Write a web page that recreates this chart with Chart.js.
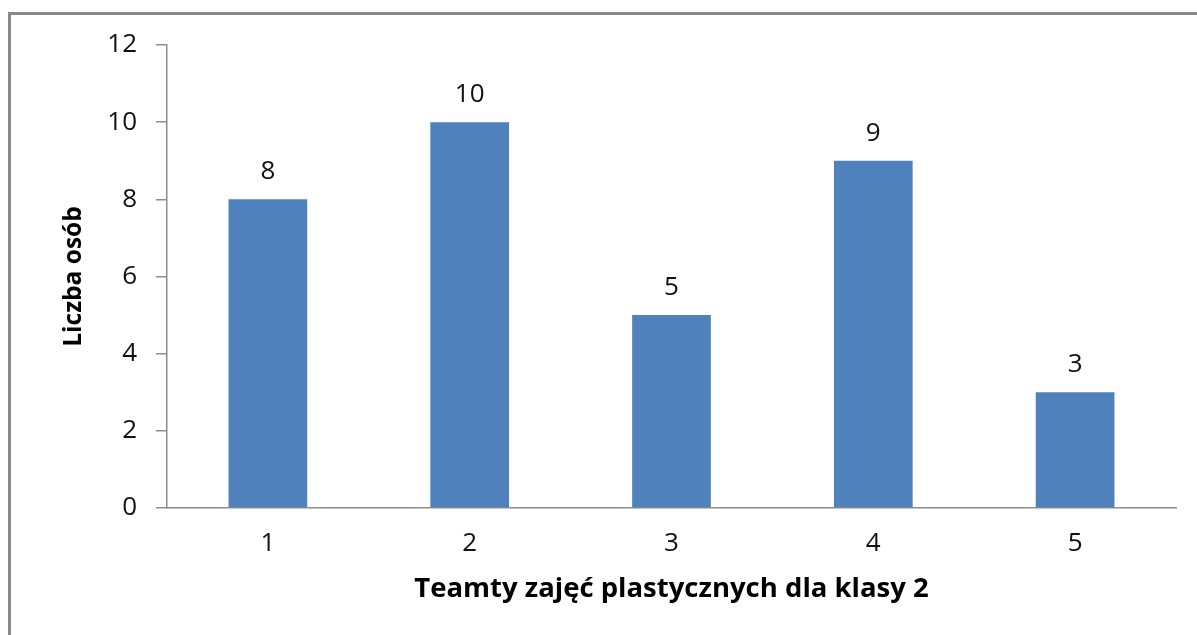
<!DOCTYPE html>
<html>
<head>
<meta charset="utf-8">
<script src="https://cdn.jsdelivr.net/npm/chart.js@4"></script>
<style>
  body { margin: 0; background: #fff; overflow: hidden; }
  #ramka { position: absolute; left: 8px; top: 12px; width: 1400px; height: 800px;
           border-left: 3px solid #8a8a8a; border-top: 3px solid #8a8a8a; }
  #wrap { position: absolute; left: 0; top: 0; width: 1197px; height: 635px; }
</style>
</head>
<body>
<div id="ramka"></div>
<div id="wrap"><canvas id="grafico"></canvas></div>
<script>
const kategorie = ['1', '2', '3', '4', '5']
const liczbaOsob = [8, 10, 5, 9, 3]
const tytulX = 'Teamty zajęć plastycznych dla klasy 2'
const tytulY = 'Liczba osób'
const czcionka = '"Open Sans", sans-serif'

// etykiety nad słupkami
const etykiety = {
    id: 'etykiety',
    afterDatasetsDraw(chart) {
        const ctx = chart.ctx
        const meta = chart.getDatasetMeta(0)
        ctx.save()
        ctx.font = '26px ' + czcionka
        ctx.fillStyle = '#111'
        ctx.textAlign = 'center'
        ctx.textBaseline = 'alphabetic'
        meta.data.forEach((bar, i) => {
            ctx.fillText(String(liczbaOsob[i]), bar.x, bar.y - 20)
        })
        ctx.restore()
    }
}

const grafico = document.querySelector('#grafico')
new Chart(grafico, {
    type: 'bar',
    data: {
        labels: kategorie,
        datasets: [{
            data: liczbaOsob,
            backgroundColor: '#4F81BD',
            borderWidth: 0,
            categoryPercentage: 1,
            barPercentage: 0.39
        }]
    },
    options: {
        responsive: true,
        maintainAspectRatio: false,
        animation: false,
        layout: { padding: { left: 0, top: 45, right: 21, bottom: 0 } },
        plugins: { legend: { display: false }, tooltip: { enabled: false } },
        scales: {
            x: {
                grid: { display: false, drawTicks: false },
                border: { display: true, color: '#8c8c8c', width: 1.5 },
                ticks: { color: '#111', padding: 20, font: { family: czcionka, size: 26 } },
                title: { display: true, text: tytulX, color: '#000', padding: { top: 0, bottom: 29 },
                         font: { family: czcionka, size: 27.5, weight: 'bold' } },
                afterFit(scale) { scale.height = 127 }
            },
            y: {
                min: 0, max: 12,
                ticks: { stepSize: 2, color: '#111', padding: 19, font: { family: czcionka, size: 26 } },
                grid: { display: true, drawOnChartArea: false, drawTicks: true, tickLength: 11, color: '#8c8c8c', lineWidth: 1.5 },
                border: { display: true, color: '#8c8c8c', width: 1.5 },
                title: { display: true, text: tytulY, color: '#000', padding: { top: 59, bottom: 0 },
                         font: { family: czcionka, size: 24.5, weight: 'bold' } },
                afterFit(scale) { scale.width = 167 }
            }
        }
    },
    plugins: [etykiety]
})
</script>
</body>
</html>
